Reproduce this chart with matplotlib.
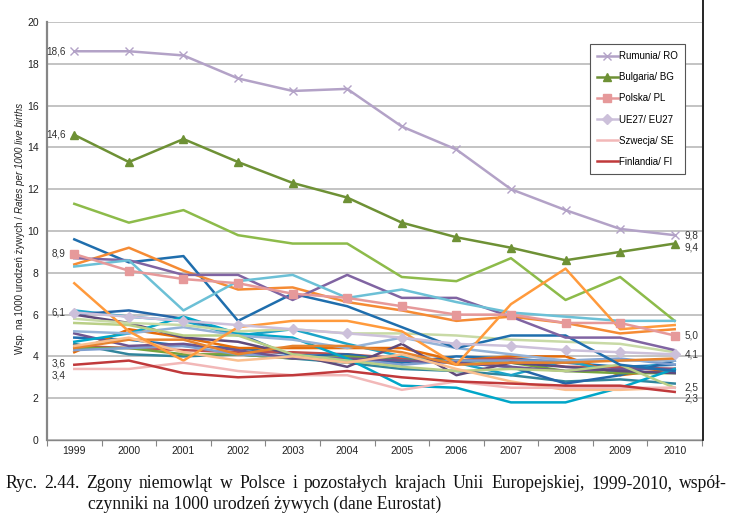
#!/usr/bin/env python3
"""
Infant mortality in Poland and other EU countries, 1999-2010 (Eurostat)
"""

import matplotlib
matplotlib.use('Agg')
import matplotlib.pyplot as plt
from matplotlib.lines import Line2D

years = ['1999', '2000', '2001', '2002', '2003', '2004',
         '2005', '2006', '2007', '2008', '2009', '2010']

# highlighted series (shown in legend)
ro = [18.6, 18.6, 18.4, 17.3, 16.7, 16.8, 15.0, 13.9, 12.0, 11.0, 10.1, 9.8]
bg = [14.6, 13.3, 14.4, 13.3, 12.3, 11.6, 10.4, 9.7, 9.2, 8.6, 9.0, 9.4]
pl = [8.9, 8.1, 7.7, 7.5, 7.0, 6.8, 6.4, 6.0, 6.0, 5.6, 5.6, 5.0]
eu27 = [6.1, 5.9, 5.7, 5.5, 5.3, 5.1, 4.9, 4.6, 4.5, 4.3, 4.2, 4.1]
se = [3.4, 3.4, 3.7, 3.3, 3.1, 3.1, 2.4, 2.8, 2.5, 2.5, 2.5, 2.5]
fi = [3.6, 3.8, 3.2, 3.0, 3.1, 3.3, 3.0, 2.8, 2.7, 2.6, 2.6, 2.3]

# remaining member states (not in legend)
lv = [11.3, 10.4, 11.0, 9.8, 9.4, 9.4, 7.8, 7.6, 8.7, 6.7, 7.8, 5.7]
ee = [9.6, 8.5, 8.8, 5.7, 7.0, 6.4, 5.4, 4.4, 5.0, 5.0, 3.6, 3.3]
hu = [8.4, 9.2, 8.1, 7.2, 7.3, 6.6, 6.2, 5.7, 5.9, 5.6, 5.1, 5.3]
lt = [8.7, 8.6, 7.9, 7.9, 6.7, 7.9, 6.8, 6.8, 5.9, 4.9, 4.9, 4.3]
sk = [8.3, 8.6, 6.2, 7.6, 7.9, 6.8, 7.2, 6.6, 6.1, 5.9, 5.7, 5.7]
mt = [7.5, 5.2, 3.8, 5.4, 5.7, 5.7, 5.2, 3.6, 6.5, 8.2, 5.3, 5.5]
be = [4.9, 4.8, 4.5, 4.4, 4.1, 3.9, 3.7, 4.0, 3.9, 3.7, 3.5, 3.6]
cz = [4.6, 4.1, 4.0, 4.1, 3.9, 3.7, 3.4, 3.3, 3.1, 2.8, 2.9, 2.7]
dk = [4.2, 5.3, 4.9, 4.4, 4.4, 4.4, 4.4, 3.8, 4.0, 4.0, 3.1, 3.4]
de = [4.5, 4.4, 4.3, 4.2, 4.2, 4.1, 3.9, 3.8, 3.9, 3.5, 3.5, 3.4]
ie = [6.2, 5.9, 5.7, 5.0, 5.3, 4.6, 4.0, 3.7, 3.1, 3.8, 3.2, 3.8]
gr = [6.0, 6.2, 5.8, 5.1, 4.0, 4.1, 3.8, 3.7, 3.5, 2.7, 3.1, 3.8]
es = [4.4, 4.4, 4.1, 4.1, 3.9, 4.0, 3.8, 3.8, 3.7, 3.3, 3.2, 3.2]
fr = [4.3, 4.4, 4.5, 4.1, 4.0, 3.9, 3.6, 3.8, 3.8, 3.8, 3.9, 3.6]
it = [5.1, 4.5, 4.6, 4.3, 3.9, 3.9, 3.8, 3.7, 3.5, 3.3, 3.4, 3.4]
cy = [6.0, 5.6, 4.9, 4.7, 4.1, 3.5, 4.6, 3.1, 3.7, 3.5, 3.3, 3.2]
lu = [4.7, 5.1, 5.9, 5.1, 4.9, 3.9, 2.6, 2.5, 1.8, 1.8, 2.5, 3.4]
nl = [5.2, 5.1, 5.4, 5.0, 4.8, 4.4, 4.9, 4.4, 4.1, 3.8, 3.8, 3.8]
at = [4.4, 4.8, 4.8, 4.1, 4.5, 4.5, 4.2, 3.6, 3.7, 3.7, 3.8, 3.9]
pt = [5.6, 5.5, 5.0, 5.0, 4.1, 3.8, 3.5, 3.3, 3.4, 3.3, 3.6, 2.5]
si = [4.5, 4.9, 4.2, 3.8, 4.0, 3.7, 4.1, 3.4, 2.8, 2.4, 2.4, 2.5]
uk = [5.8, 5.6, 5.5, 5.2, 5.3, 5.1, 5.1, 5.0, 4.8, 4.7, 4.6, 4.2]

others = [
    (be, '#1F6FB0'), (cz, '#31859C'), (dk, '#E46C0A'), (de, '#C0504D'),
    (ie, '#1CA3C8'), (gr, '#2566A8'), (es, '#76A33E'), (fr, '#7F9FD0'),
    (it, '#6F5590'), (cy, '#604A7B'), (lu, '#00A6C8'), (nl, '#95B3D7'),
    (at, '#E6832E'), (pt, '#B9CF86'), (si, '#FABF8F'), (uk, '#C8DAA6'),
    (lv, '#8DBB4A'), (ee, '#1F6EAD'), (hu, '#F58B34'), (lt, '#8064A2'),
    (sk, '#6CC0D6'), (mt, '#FF9A3C'),
]

caption1 = ('Ryc. 2.44. Zgony niemowląt w Polsce i pozostałych krajach Unii '
            'Europejskiej, 1999-2010, współ-')
caption2 = 'czynniki na 1000 urodzeń żywych (dane Eurostat)'


def justified_text(fig, text, x0, x1, y, **kw):
    """Draw one line of text spread evenly between x0 and x1 (pixels)"""
    renderer = fig.canvas.get_renderer()
    words = text.split(' ')
    arts = [fig.text(0, y, w, **kw) for w in words]
    widths = [a.get_window_extent(renderer).width for a in arts]
    gap = (x1 - x0 - sum(widths)) / (len(words) - 1)
    pos = x0
    for a, w in zip(arts, widths):
        a.set_x(pos / 735)
        pos += w + gap


def plot_chart():
    plt.rcParams['font.family'] = ['Liberation Sans', 'DejaVu Sans']
    fig = plt.figure(figsize=(7.35, 5.18), dpi=100)
    ax = fig.add_axes([47 / 735, 78 / 518, 655 / 735, 418 / 518])

    x = list(range(len(years)))

    for vals, col in others:
        ax.plot(x, vals, color=col, linewidth=1.8, zorder=3)

    ax.plot(x, se, color='#F2B8B8', linewidth=1.8, zorder=4, label='Szwecja/ SE')
    ax.plot(x, fi, color='#C0393B', linewidth=1.8, zorder=4, label='Finlandia/ FI')
    ax.plot(x, eu27, color='#CCC0DA', linewidth=1.8, marker='D', markersize=5,
            zorder=5, label='UE27/ EU27')
    ax.plot(x, pl, color='#E6999A', linewidth=1.8, marker='s', markersize=6,
            zorder=5, label='Polska/ PL')
    ax.plot(x, bg, color='#6E9135', linewidth=1.8, marker='^', markersize=6,
            zorder=6, label='Bulgaria/ BG')
    ax.plot(x, ro, color='#B3A2C7', linewidth=1.8, marker='x', markersize=5.5,
            markeredgewidth=1.0, zorder=6, label='Rumunia/ RO')

    # data labels at both ends
    lab = dict(fontsize=7.2, color='#333333', textcoords='offset points')
    for vals, dy in [(ro, 0), (bg, 0), (pl, 0), (eu27, 0), (fi, 1), (se, -4.5)]:
        ax.annotate(f'{vals[0]:.1f}'.replace('.', ','), (0, vals[0]),
                    xytext=(-6, dy), ha='right', va='center', **lab)
    for vals, dy in [(ro, 0), (bg, -3), (pl, 0), (eu27, 0), (se, 0), (fi, -5)]:
        ax.annotate(f'{vals[-1]:.1f}'.replace('.', ','), (11, vals[-1]),
                    xytext=(7, dy), ha='left', va='center', **lab)

    ax.set_xlim(-0.5, 11.5)
    ax.set_ylim(0, 20)
    ax.set_yticks(range(0, 21, 2))
    ax.set_xticks(x)
    ax.set_xticklabels(years)
    ax.set_xticks([i - 0.5 for i in range(13)], minor=True)
    ax.tick_params(axis='x', which='major', length=0, pad=4, labelsize=7.5,
                   labelcolor='#222222')
    ax.tick_params(axis='x', which='minor', length=4, color='#868686', width=0.8)
    ax.tick_params(axis='y', length=0, pad=6, labelsize=7.5, labelcolor='#222222')

    ax.grid(axis='y', color='#BEBEBE', linewidth=1.3, zorder=0)
    ax.set_axisbelow(True)
    for side in ['top', 'right']:
        ax.spines[side].set_visible(False)
    ax.spines['left'].set_color('#868686')
    ax.spines['left'].set_linewidth(1.6)
    ax.spines['bottom'].set_color('#868686')
    ax.spines['bottom'].set_linewidth(1.0)

    handles, labels = ax.get_legend_handles_labels()
    order = ['Rumunia/ RO', 'Bulgaria/ BG', 'Polska/ PL', 'UE27/ EU27',
             'Szwecja/ SE', 'Finlandia/ FI']
    hmap = dict(zip(labels, handles))
    leg = ax.legend([hmap[k] for k in order], order, loc='upper left',
                    bbox_to_anchor=(0.829, 0.947), fontsize=7, frameon=True,
                    fancybox=False, edgecolor='#555555', framealpha=1,
                    handlelength=2.2, handletextpad=0.1, labelspacing=1.15,
                    borderpad=0.7, borderaxespad=0)
    leg.get_frame().set_linewidth(0.8)

    # y axis title: normal part + italic part
    fig.text(20 / 735, 1 - 213 / 518, 'Wsp. na 1000 urodzeń żywych / ',
             rotation=90, ha='center', va='top', fontsize=7, color='#222222')
    fig.text(20 / 735, 1 - 213 / 518, 'Rates per 1000 live births',
             rotation=90, ha='center', va='bottom', fontsize=7,
             style='italic', color='#222222')

    # right border of the chart area
    fig.add_artist(Line2D([703 / 735, 703 / 735], [1, 1 - 440 / 518],
                          color='black', linewidth=1.2))

    cap = dict(family='Liberation Serif', fontsize=12.7, color='#111111',
               va='center', ha='left')
    justified_text(fig, caption1, 5, 727, 1 - 484 / 518, **cap)
    fig.text(88 / 735, 1 - 504 / 518, caption2, **cap)

    fig.savefig('out.png', dpi=100)


def main():
    plot_chart()


if __name__ == "__main__":
    main()
